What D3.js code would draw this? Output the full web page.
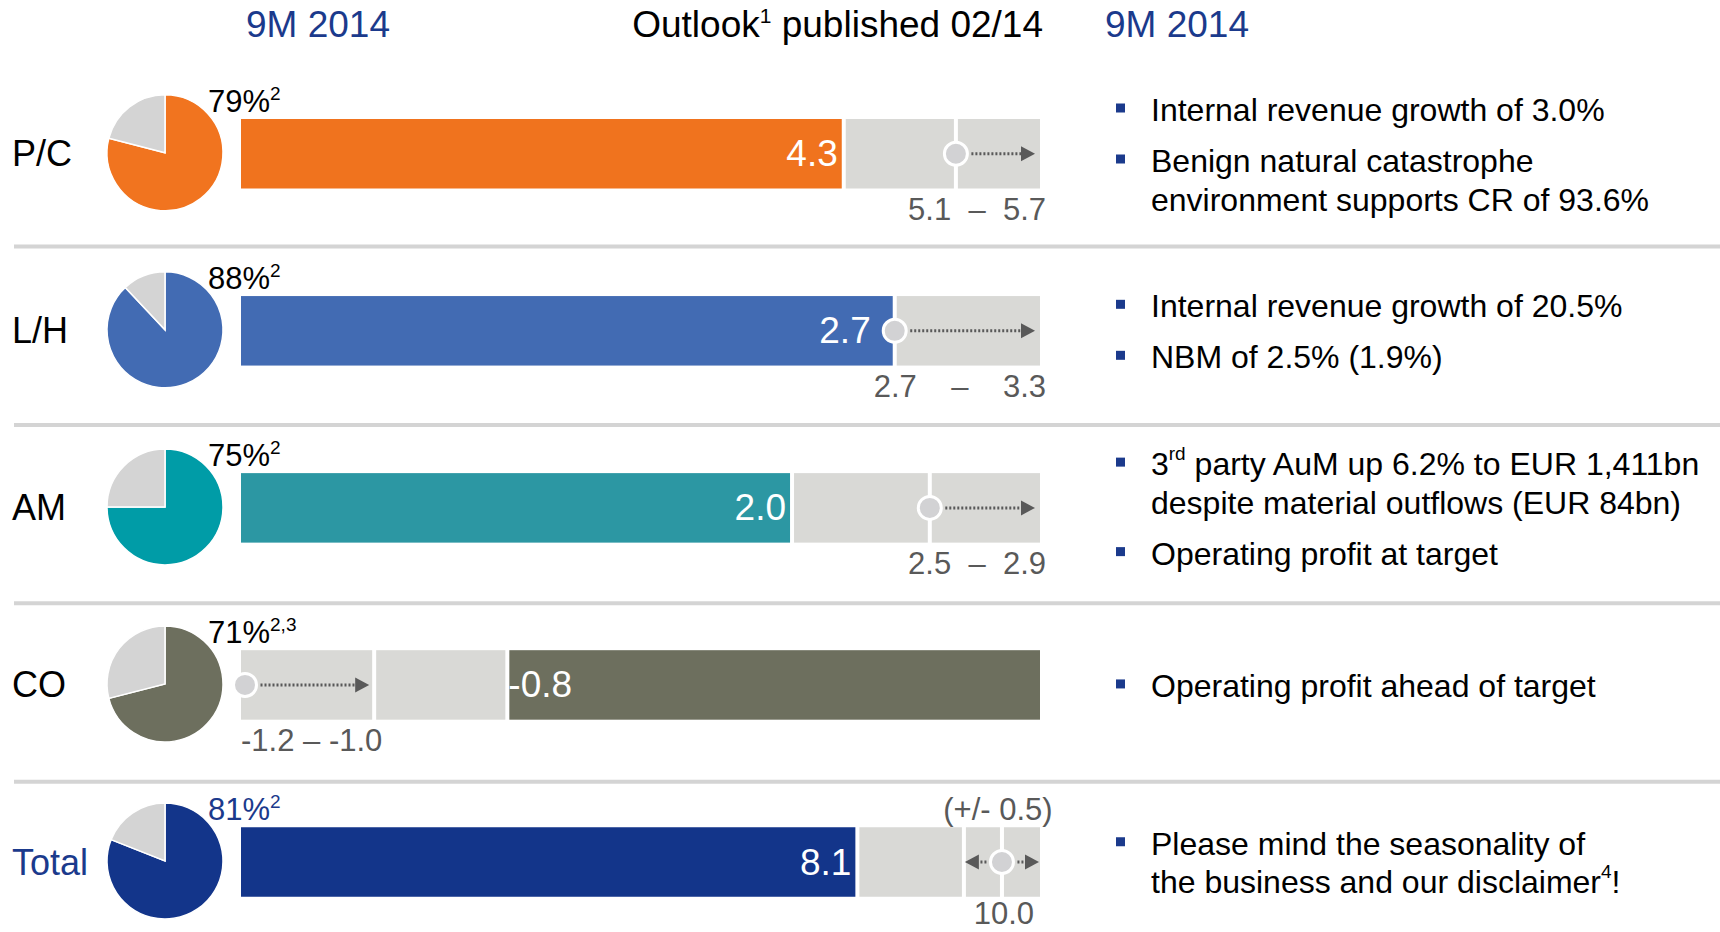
<!DOCTYPE html>
<html>
<head>
<meta charset="utf-8">
<script src="https://cdn.jsdelivr.net/npm/d3@7"></script>
<style>
body { margin: 0; background: #fff; }
svg text { font-family: "Liberation Sans", Arial, sans-serif; }
</style>
</head>
<body>
<div id="chart"></div>
<script>
var width = 1720, height = 932;

// Data (operating profit, EUR bn)
var segments = ["P/C", "L/H", "AM", "CO", "Total"];
var shares = [79, 88, 75, 71, 81];
var shareNotes = ["2", "2", "2", "2,3", "2"];
var actual = [4.3, 2.7, 2.0, -0.8, 8.1];
var outlookLow = [5.1, 2.7, 2.5, -1.2, 9.5];
var outlookHigh = [5.7, 3.3, 2.9, -1.0, 10.5];
var outlookMid = [null, null, null, null, 10.0];
var rangeLabels = ["5.1  \u2013  5.7", "2.7    \u2013    3.3", "2.5  \u2013  2.9", "-1.2 \u2013 -1.0", "10.0"];
var rangeNotes = [null, null, null, null, "(+/- 0.5)"];
var barColors = ["#f0731e", "#426bb3", "#2c97a3", "#6d6f5e", "#13358a"];
var pieColors = ["#f1741f", "#426bb3", "#009ca7", "#6d6f5e", "#13358a"];
var bullets = [
    [["Internal revenue growth of 3.0%"], ["Benign natural catastrophe", "environment supports CR of 93.6%"]],
    [["Internal revenue growth of 20.5%"], ["NBM of 2.5% (1.9%)"]],
    [["3^{rd} party AuM up 6.2% to EUR 1,411bn", "despite material outflows (EUR 84bn)"], ["Operating profit at target"]],
    [["Operating profit ahead of target"]],
    [["Please mind the seasonality of", "the business and our disclaimer^{4}!"]]
];
var headers = ["9M 2014", "Outlook^{1} published 02/14", "9M 2014"];

var navy = "#1b3a8c";
var grayBar = "#d9d9d6";
var grayPie = "#d4d4d4";
var grayText = "#595959";

var svg = d3.select("#chart").append("svg")
    .attr("width", width)
    .attr("height", height);

// text with ^{...} superscripts
function richText(sel, str, supSize, supShift) {
    var parts = str.split(/\^\{([^}]*)\}/);
    var raised = false;
    parts.forEach(function (p, k) {
        if (p === "") return;
        var t = sel.append("tspan").text(p);
        if (k % 2 === 1) {
            t.attr("font-size", supSize).attr("dy", -supShift);
            raised = true;
        } else if (raised) {
            t.attr("dy", supShift);
            raised = false;
        }
    });
}

// Scales
var yRow = d3.scalePoint().domain(segments).range([153.75, 862]);
var sepY = d3.scaleLinear().domain([0, segments.length - 2]).range([246.5, 781.7]);
var barH = 69.5;
var barX0 = 241, barX1 = 1040;
var pieX = 165, pieR = 58;
var bulletX = 1116, textX = 1151;

// Headers
var hdr = svg.append("g").attr("font-size", 37);
richText(hdr.append("text").attr("x", 318).attr("y", 37).attr("text-anchor", "middle").attr("fill", navy), headers[0], 21, 14);
richText(hdr.append("text").attr("x", 1043).attr("y", 37).attr("text-anchor", "end").attr("fill", "#000"), headers[1], 21, 14);
richText(hdr.append("text").attr("x", 1105).attr("y", 37).attr("fill", navy), headers[2], 21, 14);

// Separators
svg.selectAll(".sep")
    .data(d3.range(segments.length - 1))
    .enter().append("line")
    .attr("class", "sep")
    .attr("x1", 14).attr("x2", width)
    .attr("y1", function (d) { return sepY(d); })
    .attr("y2", function (d) { return sepY(d); })
    .attr("stroke", "#d4d4d4")
    .attr("stroke-width", 4);

var pie = d3.pie().sort(null);
var arc = d3.arc().innerRadius(0).outerRadius(pieR);

segments.forEach(function (seg, i) {
    var cy = yRow(seg);
    var top = cy - barH / 2;
    var isTotal = seg === "Total";
    var g = svg.append("g").attr("class", "row");

    // Row label
    g.append("text")
        .attr("x", 12).attr("y", cy)
        .attr("dominant-baseline", "central")
        .attr("font-size", 36)
        .attr("fill", isTotal ? navy : "#000")
        .text(seg);

    // Pie: share of full-year outlook reached
    var pg = g.append("g").attr("transform", "translate(" + pieX + "," + (cy - 1) + ")");
    pg.selectAll("path")
        .data(pie([shares[i], 100 - shares[i]]))
        .enter().append("path")
        .attr("d", arc)
        .attr("fill", function (d, k) { return k === 0 ? pieColors[i] : grayPie; })
        .attr("stroke", "#fff")
        .attr("stroke-width", 1.5);

    richText(g.append("text")
        .attr("x", 208).attr("y", top - 7)
        .attr("font-size", 31)
        .attr("fill", isTotal ? navy : "#000"),
        shares[i] + "%^{" + shareNotes[i] + "}", 19, 12);

    // Bar scale for this row
    var lo = Math.min(0, outlookLow[i]), hi = Math.max(0, outlookHigh[i]);
    var xs = d3.scaleLinear().domain([lo, hi]).range([barX0, barX1]);
    var inset = function (v, side) {
        var px = xs(v);
        if (Math.abs(px - barX0) < 0.5 || Math.abs(px - barX1) < 0.5) return px;
        return px + side * 2;
    };

    // Gray outlook segments
    var pts = [actual[i], outlookLow[i], outlookMid[i], outlookHigh[i]]
        .filter(function (v) { return v !== null; });
    pts = Array.from(new Set(pts)).sort(d3.ascending);
    g.selectAll(".seg")
        .data(d3.pairs(pts))
        .enter().append("rect")
        .attr("class", "seg")
        .attr("x", function (d) { return inset(d[0], 1); })
        .attr("width", function (d) { return inset(d[1], -1) - inset(d[0], 1); })
        .attr("y", top).attr("height", barH)
        .attr("fill", grayBar);

    // Actual bar
    var a0 = Math.min(0, actual[i]), a1 = Math.max(0, actual[i]);
    var ax0 = inset(a0, 1), ax1 = inset(a1, -1);
    g.append("rect")
        .attr("x", ax0).attr("width", ax1 - ax0)
        .attr("y", top).attr("height", barH)
        .attr("fill", barColors[i]);

    // Circle marker + arrows
    var cval = outlookMid[i] !== null ? outlookMid[i] : outlookLow[i];
    var cx = Math.max(barX0 + 4, Math.min(barX1 - 4, xs(cval)));
    var targets = outlookMid[i] !== null ? [outlookLow[i], outlookHigh[i]] : [outlookHigh[i]];
    var cr = 11.5, headL = 14, headH = 15;
    targets.forEach(function (t) {
        var dir = xs(t) > cx ? 1 : -1;
        var tip = xs(t) - dir * (isTotal ? 1 : 5);
        g.append("line")
            .attr("x1", cx + dir * (cr + 4)).attr("x2", tip - dir * headL)
            .attr("y1", cy).attr("y2", cy)
            .attr("stroke", grayText)
            .attr("stroke-width", 3)
            .attr("stroke-dasharray", "2,2");
        g.append("path")
            .attr("d", d3.line()([[tip, cy], [tip - dir * headL, cy - headH / 2], [tip - dir * headL, cy + headH / 2]]) + "Z")
            .attr("fill", grayText);
    });
    g.append("circle")
        .attr("cx", cx).attr("cy", cy).attr("r", cr)
        .attr("fill", "#d2d2d4")
        .attr("stroke", "#fff")
        .attr("stroke-width", 3);

    // Value label inside bar
    var vl = g.append("text")
        .attr("y", cy)
        .attr("dominant-baseline", "central")
        .attr("font-size", 37)
        .attr("fill", "#fff")
        .text(actual[i].toFixed(1));
    if (actual[i] >= 0) {
        var endX = xs(actual[i]) - 6;
        if (Math.abs(cx - xs(actual[i])) < 20) endX = cx - 24;
        vl.attr("x", endX).attr("text-anchor", "end");
    } else {
        vl.attr("x", xs(actual[i]) + 1).attr("text-anchor", "start");
    }

    // Outlook range label
    var rl = g.append("text")
        .attr("y", Math.min(top + barH + 31.5, height - 8))
        .attr("font-size", 31)
        .attr("fill", grayText)
        .style("white-space", "pre")
        .text(rangeLabels[i]);
    if (outlookMid[i] !== null) rl.attr("x", cx + 2).attr("text-anchor", "middle");
    else if (outlookHigh[i] < 0) rl.attr("x", barX0).attr("text-anchor", "start");
    else rl.attr("x", barX1 + 6).attr("text-anchor", "end");

    if (rangeNotes[i]) {
        g.append("text")
            .attr("x", cx - 4).attr("y", top - 7)
            .attr("text-anchor", "middle")
            .attr("font-size", 31)
            .attr("fill", grayText)
            .text(rangeNotes[i]);
    }

    // Comment bullets
    var lines = [], off = 0;
    bullets[i].forEach(function (b, k) {
        if (k > 0) off += 51;
        b.forEach(function (ln, j) {
            if (j > 0) off += 38.5;
            lines.push({ text: ln, y: off, first: j === 0 });
        });
    });
    var shift = cy + 1 - off / 2;
    lines.forEach(function (ln) {
        var ty = shift + ln.y;
        if (ln.first) {
            g.append("rect")
                .attr("x", bulletX).attr("y", ty - 6.5)
                .attr("width", 9).attr("height", 9)
                .attr("fill", navy);
        }
        richText(g.append("text")
            .attr("x", textX).attr("y", ty)
            .attr("dominant-baseline", "central")
            .attr("font-size", 32)
            .attr("fill", "#000"), ln.text, 19, 11);
    });
});
</script>
</body>
</html>
